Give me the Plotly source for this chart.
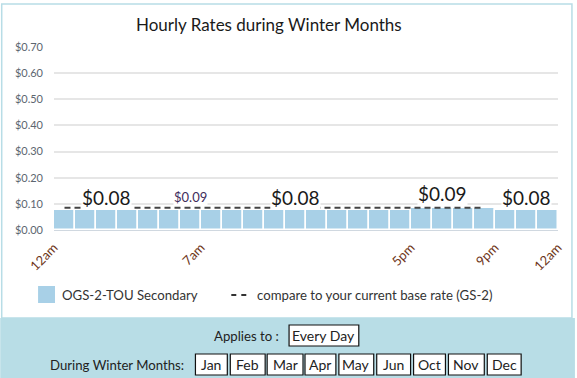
import plotly.graph_objects as go

# ---------------- data ----------------
hours = list(range(24))
tou_rate = [0.076] * 17 + [0.085] * 4 + [0.076] * 3          # OGS-2-TOU Secondary, $/kWh by hour
base_rate = [0.085] * 21 + [None] * 3                           # GS-2 base rate comparison
tick_hours = [0, 7, 17, 21, 24]
tick_text = ["12am", "7am", "5pm", "9pm", "12am"]
rate_label_hours = [2.5, 11.5, 18.5, 22.5]
rate_label_text = ["$0.08", "$0.08", "$0.09", "$0.08"]
base_label_hour = 6.5
base_label_text = "$0.09"
months = ["Jan", "Feb", "Mar", "Apr", "May", "Jun", "Oct", "Nov", "Dec"]
y_ticks = [0, 0.1, 0.2, 0.3, 0.4, 0.5, 0.6, 0.7]

# ---------------- layout helpers ----------------
W, H = 577, 378
L, R, T, B = 54, 560, 47, 230
PW, PH = R - L, B - T


def px(x):
    return (x - L) / PW


def py(y):
    return (B - y) / PH


FONT = "Lato"
BAR_COLOR = "#a8d0e7"
PANEL = "#b8dde6"

centers = [h + 0.5 for h in hours]

fig = go.Figure()
fig.add_trace(go.Bar(
    x=centers, y=tou_rate, width=1, name="OGS-2-TOU Secondary",
    marker=dict(color=BAR_COLOR, line=dict(color="white", width=1.5)),
    showlegend=False, hoverinfo="y",
))
fig.add_trace(go.Scatter(
    x=centers, y=base_rate, mode="lines", name="compare to your current base rate (GS-2)",
    line=dict(color="#444", width=2, dash="6px,4px"), showlegend=False,
))

annotations = []
# rate labels
for hx, txt in zip(rate_label_hours, rate_label_text):
    cover = txt == "$0.08"
    annotations.append(dict(
        x=hx, y=0.078 if cover else 0.0925, xref="x", yref="y",
        text=txt, showarrow=False, xanchor="center", yanchor="bottom",
        font=dict(family=FONT, size=19, color="#1a1a1a"),
        bgcolor="white", borderpad=0,
    ))
annotations.append(dict(
    x=base_label_hour, y=0.093, xref="x", yref="y", text=base_label_text,
    showarrow=False, xanchor="center", yanchor="bottom",
    font=dict(family=FONT, size=13, color="#3f2d5c"), bgcolor="white", borderpad=0,
))

# title
annotations.append(dict(
    x=px(270), y=py(24), xref="paper", yref="paper", text="Hourly Rates during Winter Months",
    showarrow=False, xanchor="center", yanchor="middle",
    font=dict(family=FONT, size=17, color="#1a1a1a"),
))

# legend (manual)
shapes = []
shapes.append(dict(type="rect", xref="paper", yref="paper", x0=px(38), x1=px(55), y0=py(286), y1=py(303),
                   fillcolor=BAR_COLOR, line=dict(width=0), layer="above"))
annotations.append(dict(x=px(60), y=py(294.5), xref="paper", yref="paper", text="OGS-2-TOU Secondary",
                        showarrow=False, xanchor="left", yanchor="middle",
                        font=dict(family=FONT, size=13.2, color="#333")))
shapes.append(dict(type="line", xref="paper", yref="paper", x0=px(232), x1=px(248), y0=py(295), y1=py(295),
                   line=dict(color="#333", width=2, dash="5px,5px")))
annotations.append(dict(x=px(256), y=py(294.5), xref="paper", yref="paper",
                        text="compare to your current base rate (GS-2)",
                        showarrow=False, xanchor="left", yanchor="middle",
                        font=dict(family=FONT, size=13.2, color="#333")))

# container border + bottom panel
shapes.append(dict(type="rect", xref="paper", yref="paper", x0=px(1.5), x1=px(574), y0=py(318), y1=py(4),
                   fillcolor="rgba(0,0,0,0)", line=dict(color=PANEL, width=1.5), layer="below"))
shapes.append(dict(type="rect", xref="paper", yref="paper", x0=px(0), x1=px(577), y0=py(378), y1=py(318),
                   fillcolor=PANEL, line=dict(width=0), layer="below"))

annotations.append(dict(x=px(282), y=py(336), xref="paper", yref="paper", text="Applies to :",
                        showarrow=False, xanchor="right", yanchor="middle",
                        font=dict(family=FONT, size=13.2, color="#222")))
shapes.append(dict(type="rect", xref="paper", yref="paper", x0=px(290), x1=px(360), y0=py(346), y1=py(325),
                   fillcolor="white", line=dict(color="#111", width=1.2), layer="below"))
annotations.append(dict(x=px(325), y=py(335.5), xref="paper", yref="paper", text="Every Day",
                        showarrow=False, xanchor="center", yanchor="middle",
                        font=dict(family=FONT, size=14, color="#222")))

annotations.append(dict(x=px(187), y=py(365), xref="paper", yref="paper", text="During Winter Months:",
                        showarrow=False, xanchor="right", yanchor="middle",
                        font=dict(family=FONT, size=13.2, color="#222")))
month_boxes = [(196, 228), (231, 266), (268, 304), (306, 337), (340, 375),
               (378, 412), (415, 447), (450, 486), (489, 523)]
for m, (a, b) in zip(months, month_boxes):
    shapes.append(dict(type="rect", xref="paper", yref="paper", x0=px(a), x1=px(b), y0=py(375), y1=py(354),
                       fillcolor="white", line=dict(color="#111", width=1.2), layer="below"))
    annotations.append(dict(x=px((a + b) / 2), y=py(364.5), xref="paper", yref="paper", text=m,
                            showarrow=False, xanchor="center", yanchor="middle",
                            font=dict(family=FONT, size=14, color="#222")))

fig.update_layout(
    width=W, height=H, margin=dict(l=L, r=W - R, t=T, b=H - B),
    paper_bgcolor="white", plot_bgcolor="white",
    bargap=0, showlegend=False,
    xaxis=dict(range=[0, 24], tickmode="array", tickvals=tick_hours, ticktext=tick_text,
               tickangle=-45, tickfont=dict(family=FONT, size=13, color="#6e3518"),
               showgrid=False, zeroline=False, showline=True, linecolor="#d0d8e0", linewidth=1,
               ticks="", ticklabelstandoff=4, fixedrange=True),
    yaxis=dict(range=[0, 0.7], tickmode="array", tickvals=y_ticks,
               ticktext=[f"${v:.2f}" for v in y_ticks],
               tickfont=dict(family=FONT, size=11, color="#5c6670"),
               showgrid=True, gridcolor="#e6e6e6", gridwidth=1.5, zeroline=False,
               ticks="", ticklabelstandoff=10, fixedrange=True),
    annotations=annotations, shapes=shapes,
)

fig.write_html(
    "out.html",
    config={"displayModeBar": False},
    post_script="document.body.style.margin='0';document.body.style.overflow='hidden';",
)
